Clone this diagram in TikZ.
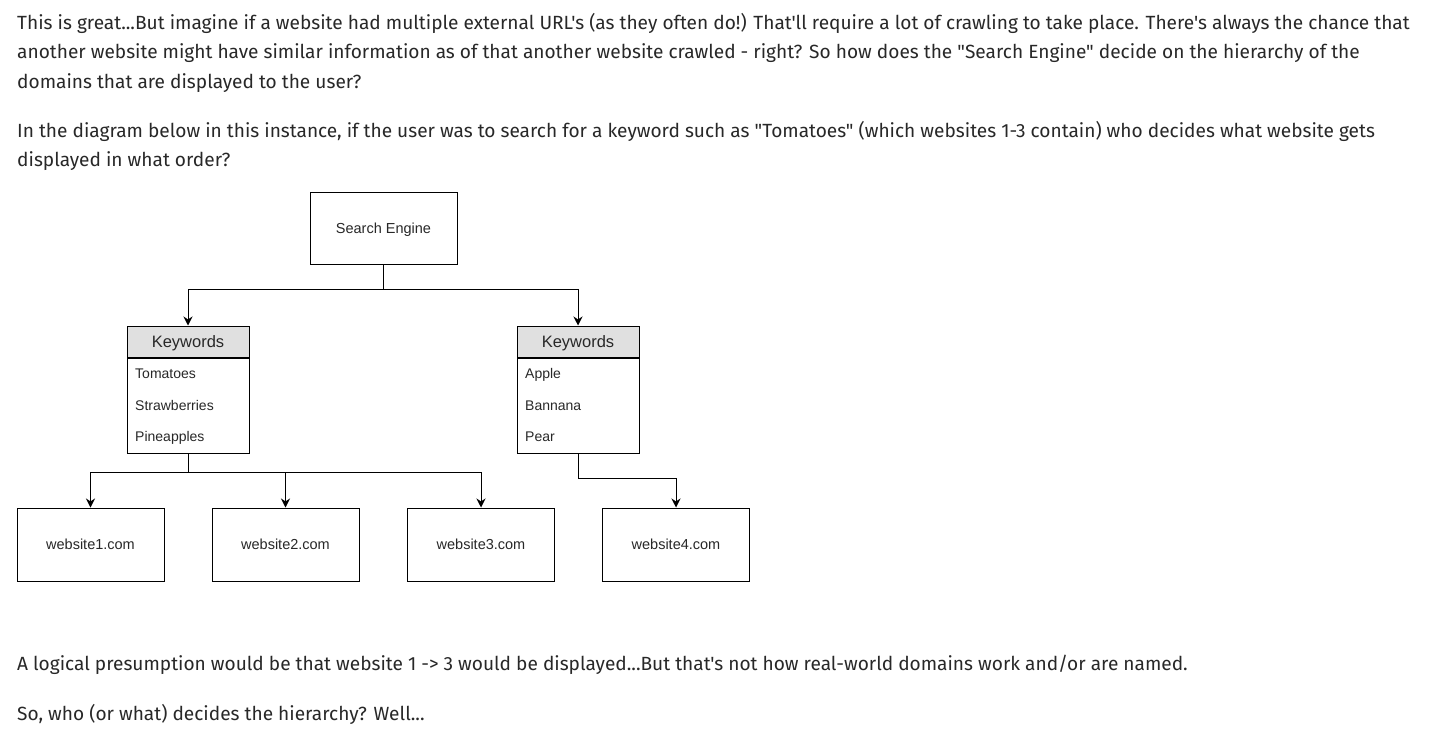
\documentclass[tikz,border=0pt]{standalone}
\usepackage{fontspec}
\newfontfamily\parafont{Fira Sans}
\newfontfamily\diagfont{Liberation Sans}
\usetikzlibrary{arrows.meta,positioning}
\definecolor{textgray}{RGB}{40,40,40}
\definecolor{headgray}{RGB}{224,224,224}
\tikzset{
  para/.style={anchor=base west,inner sep=0pt,text=textgray,font=\parafont\fontsize{19.1}{22}\selectfont},
  box/.style={draw,line width=1pt,minimum width=147pt,minimum height=73pt,text depth=0pt,text=textgray,font=\diagfont\fontsize{14.5}{16}\selectfont},
  kwhead/.style={draw,line width=1pt,fill=headgray,minimum width=122pt,minimum height=31pt,text depth=0pt,text=textgray,font=\diagfont\fontsize{16.5}{18}\selectfont},
  kwbody/.style={draw,line width=1pt,minimum width=122pt,minimum height=95pt},
  kwitem/.style={anchor=base west,inner sep=0pt,text=textgray,font=\diagfont\fontsize{14}{16}\selectfont},
  link/.style={line width=1pt,-{Stealth[length=9pt,width=9pt]}}
}
\begin{document}
\begin{tikzpicture}[x=1pt,y=-1pt]
\useasboundingbox[fill=white] (0,0) rectangle (1431,736);
% text above
\node[para] (intro1) at (17,29) {This is great...But imagine if a website had multiple external URL's (as they often do!) That'll require a lot of crawling to take place. There's always the chance that};
\node[para] (intro2) at (17,58.5) {another website might have similar information as of that another website crawled - right? So how does the "Search Engine" decide on the hierarchy of the};
\node[para] (intro3) at (17,88) {domains that are displayed to the user?};
\node[para] (ask1) at (17,137) {In the diagram below in this instance, if the user was to search for a keyword such as "Tomatoes" (which websites 1-3 contain) who decides what website gets};
\node[para] (ask2) at (17,166.5) {displayed in what order?};
% diagram
\node[box,minimum height=72pt] (engine) at (383.5,228) {Search Engine};
\node[kwhead] (kwL) at (188,341.5) {Keywords};
\node[kwbody,below=0pt of kwL] (listL) {};
\node[kwitem] (tomatoes) at (135,378) {Tomatoes};
\node[kwitem] (straw) at (135,410) {Strawberries};
\node[kwitem] (pine) at (135,441) {Pineapples};
\node[kwhead] (kwR) at (578,341.5) {Keywords};
\node[kwbody,below=0pt of kwR] (listR) {};
\node[kwitem] (apple) at (525,378) {Apple};
\node[kwitem] (banana) at (525,410) {Bannana};
\node[kwitem] (pear) at (525,441) {Pear};
\node[box] (web1) at (90.5,544.5) {website1.com};
\node[box] (web2) at (285.5,544.5) {website2.com};
\node[box] (web3) at (481,544.5) {website3.com};
\node[box] (web4) at (676,544.5) {website4.com};
\draw[link] (engine.south) -- ++(0,25) -| (kwL.north);
\draw[link] (engine.south) -- ++(0,25) -| (kwR.north);
\foreach \w in {web1,web2,web3}
  \draw[link] (listL.south) -- ++(0,19) -| (\w.north);
\draw[link] (listR.south) -- ++(0,25) -| (web4.north);
% text below
\node[para] (guess) at (17,670) {A logical presumption would be that website 1 -> 3 would be displayed...But that's not how real-world domains work and/or are named.};
\node[para] (question) at (17,720) {So, who (or what) decides the hierarchy? Well...};
\end{tikzpicture}
\end{document}
